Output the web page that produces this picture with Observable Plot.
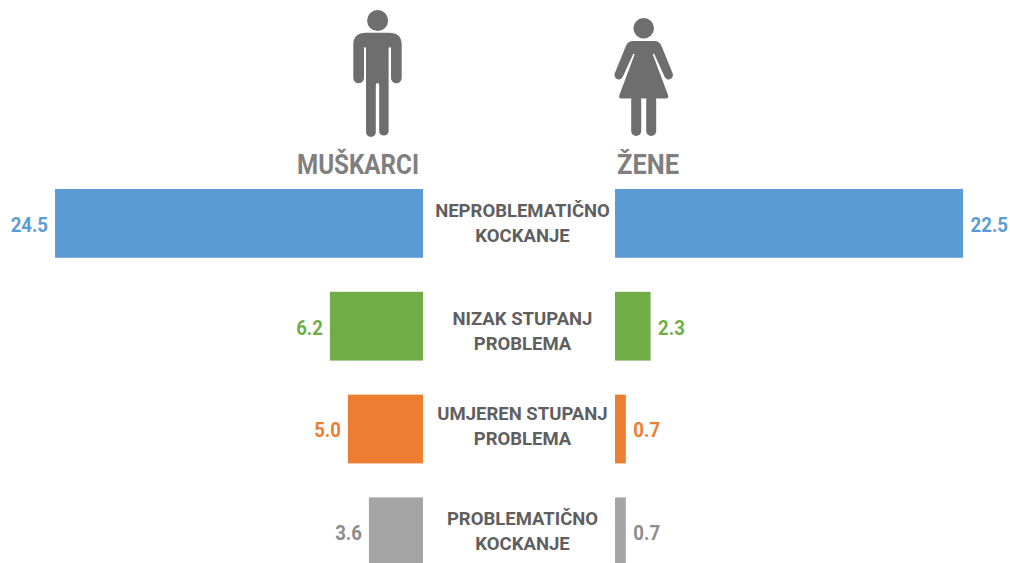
<!DOCTYPE html>
<html>
<head>
<meta charset="utf-8">
<script src="https://cdn.jsdelivr.net/npm/d3@7"></script>
<script src="https://cdn.jsdelivr.net/npm/@observablehq/plot@0.6"></script>
<style>
  html, body { margin: 0; padding: 0; background: #fff; }
  #chart { position: relative; width: 1010px; height: 563px; overflow: hidden; }
  #chart svg { position: absolute; left: 0; top: 0; background: transparent; }
</style>
</head>
<body>
<div id="chart">
  <svg id="icons" width="1010" height="563" viewBox="0 0 1010 563">
    <g fill="#6e6e6e">
      <circle cx="377.6" cy="20.5" r="10.5"/>
      <path d="M353.3 45 Q353.3 32.7 366 32.7 H389 Q401.7 32.7 401.7 45 V78 A5.35 5.35 0 0 1 391 78 V48.5 Q391 47 389.8 47 Q388.6 47 388.6 48.5 V132 A4.9 4.9 0 0 1 379.2 132 V85 Q379.2 83 377.5 83 Q375.8 83 375.8 85 V132 A4.9 4.9 0 0 1 366 132 V48.5 Q366 47 365 47 Q364 47 364 48.5 V78 A5.35 5.35 0 0 1 353.3 78 Z"/>
      <circle cx="643.7" cy="28.3" r="10.3"/>
      <path d="M633 41 H654.4 Q659.5 41 661.5 46 L672.5 73 A4.3 4.3 0 0 1 664.7 77 L654 53.5 L652.8 54.5 L668 95 Q669 98.5 666 98.5 H621.4 Q618.4 98.5 619.4 95 L634.6 54.5 L633.4 53.5 L622.7 77 A4.3 4.3 0 0 1 614.9 73 L625.9 46 Q627.9 41 633 41 Z"/>
      <rect x="631.2" y="95" width="10" height="41" rx="5"/>
      <rect x="646.2" y="95" width="10" height="41" rx="5"/>
    </g>
    <g fill="#7f7f7f" font-family="Roboto, sans-serif" font-weight="700" font-size="27">
      <text x="297" y="173.5" textLength="122" lengthAdjust="spacingAndGlyphs">MUŠKARCI</text>
      <text x="617" y="173.5" textLength="62" lengthAdjust="spacingAndGlyphs">ŽENE</text>
    </g>
  </svg>
</div>
<script>
const categories = ["NEPROBLEMATIČNO\nKOCKANJE", "NIZAK STUPANJ\nPROBLEMA", "UMJEREN STUPANJ\nPROBLEMA", "PROBLEMATIČNO\nKOCKANJE"];
const menValues = [24.5, 6.2, 5.0, 3.6];
const womenValues = [22.5, 2.3, 0.7, 0.7];
const barColors = ["#5b9bd5", "#70ad47", "#ed7d31", "#a5a5a5"];
const valueColors = ["#5b9bd5", "#70ad47", "#ed7d31", "#8c8c8c"];

const fmt = d3.format(".1f");
const men = categories.map((c, i) => ({category: c, value: menValues[i], color: valueColors[i]}));
const women = categories.map((c, i) => ({category: c, value: womenValues[i], color: valueColors[i]}));

const fontFamily = "Roboto, sans-serif";
const base = {
  width: 1010, height: 563,
  marginTop: 0, marginRight: 0, marginBottom: 0, marginLeft: 0,
  style: {background: "transparent", overflow: "hidden"},
  y: {type: "band", domain: categories, range: [189, 566.2], paddingInner: 0.331, paddingOuter: 0, align: 0, round: false, axis: null},
  color: {type: "ordinal", domain: categories, range: barColors}
};
const valueText = {fontFamily, fontWeight: 700, fontSize: 20, lineAnchor: "middle", dy: 1.5, className: "value-label"};

const menPlot = Plot.plot({
  ...base,
  x: {domain: [0, 423 / 15.02], range: [423, 0], axis: null},
  marks: [
    Plot.barX(men, {x: "value", y: "category", fill: "category"}),
    Plot.text(men, {x: "value", y: "category", text: d => fmt(d.value), fill: "color", textAnchor: "end", dx: -7.5, ...valueText}),
    ...categories.map((c, i) => Plot.text([c], {
      y: d => d, text: d => d, frameAnchor: "middle", textAnchor: "middle", lineAnchor: "middle",
      dx: 17, dy: [-2.5, 2.5, -5, -3][i],
      fill: "#5f5f5f", fontFamily, fontWeight: 700, fontSize: 18.5, lineHeight: 1.35
    }))
  ]
});
const womenPlot = Plot.plot({
  ...base,
  x: {domain: [0, 395 / 15.47], range: [615, 1010], axis: null},
  marks: [
    Plot.barX(women, {x: "value", y: "category", fill: "category"}),
    Plot.text(women, {x: "value", y: "category", text: d => fmt(d.value), fill: "color", textAnchor: "start", dx: 7, ...valueText})
  ]
});
// The reference's numerals are condensed: narrow the value labels horizontally.
for (const plot of [menPlot, womenPlot]) {
  plot.querySelectorAll(".value-label text").forEach(t => {
    t.setAttribute("transform", (t.getAttribute("transform") || "") + " scale(0.93 1)");
  });
}
document.getElementById("chart").append(menPlot, womenPlot);
</script>
</body>
</html>
